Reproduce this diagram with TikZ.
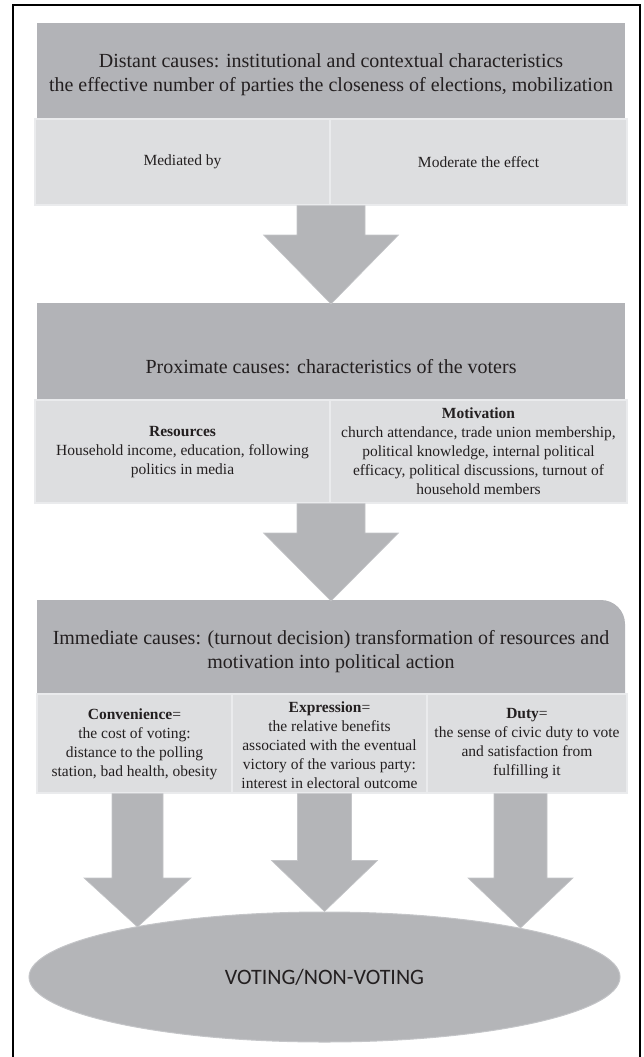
\documentclass[tikz,border=0pt]{standalone}
\usepackage{fontspec}
\setmainfont{Liberation Serif}
\newfontfamily\calibrifont{Carlito}
\usetikzlibrary{shapes.geometric,calc}
\definecolor{boxdark}{RGB}{178,179,183}
\definecolor{boxlight}{RGB}{221,222,224}
\definecolor{boxedge}{RGB}{234,235,237}
\definecolor{arrowgray}{RGB}{180,181,184}
\definecolor{arrowedge}{RGB}{196,197,200}
\definecolor{ink}{RGB}{35,31,32}
\tikzset{
  darkbox/.style={rectangle, fill=boxdark, draw=none, inner sep=0pt},
  lightbox/.style={rectangle, fill=boxlight, draw=boxedge, line width=1.2pt, inner sep=0pt},
  bigtxt/.style={align=center, text=ink, inner sep=0pt, font=\fontsize{20}{24}\selectfont},
  smalltxt/.style={align=center, text=ink, inner sep=0pt, font=\fontsize{15.5}{19}\selectfont},
  arrowshape/.style={fill=arrowgray, draw=arrowedge, line width=0.6pt, line join=miter},
  frame/.style={draw=black, line width=2pt}
}
% #1 start (shaft top), #2 tip, #3 shaft half width, #4 head half width, #5 head length
\newcommand\blockarr[5]{%
  \path[arrowshape] let \p1=(#1), \p2=(#2) in
    (\x2-#3,\y1) -- (\x2+#3,\y1) -- (\x2+#3,\y2+#5) -- (\x2+#4,\y2+#5) --
    (\x2,\y2) -- (\x2-#4,\y2+#5) -- (\x2-#3,\y2+#5) -- cycle;}
\begin{document}
\begin{tikzpicture}[x=1pt,y=-1pt]
\useasboundingbox (0,0) rectangle (643,1057);
\draw[frame] (13,1058) -- (13,5) -- (640,5) -- (640,1058);

% Distant causes
\node[darkbox, minimum width=588pt, minimum height=96pt] (distant) at (331,71) {};
\node[bigtxt] (distantT) at (331,75) {Distant causes: institutional and contextual characteristics\\the effective number of parties the closeness of elections, mobilization};
\node[lightbox, minimum width=295pt, minimum height=86pt] (med) at (182.5,162) {};
\node[lightbox, minimum width=297pt, minimum height=86pt] (mod) at (478.5,162) {};
\node[smalltxt] (medT) at (182.5,162) {Mediated by};
\node[smalltxt] (modT) at (478.5,162) {Moderate the effect};

% Proximate causes
\node[darkbox, minimum width=588pt, minimum height=97pt] (prox) at (331,351.5) {};
\node[bigtxt] (proxT) at (331,367) {Proximate causes: characteristics of the voters};
\node[lightbox, minimum width=295pt, minimum height=103pt] (res) at (182.5,451.5) {};
\node[lightbox, minimum width=297pt, minimum height=103pt] (mot) at (478.5,451.5) {};
\node[smalltxt] (resT) at (182.5,452) {\textbf{Resources}\\Household income, education, following\\politics in media};
\node[smalltxt] (motT) at (478.5,451.5) {\textbf{Motivation}\\church attendance, trade union membership,\\political knowledge, internal political\\efficacy, political discussions, turnout of\\household members};

% Immediate causes
\fill[boxdark] (37,694) -- (37,600) -- (601,600) arc[start angle=90, end angle=0, radius=24pt] -- (625,694) -- cycle;
\coordinate (immtop) at (331,600);
\node[bigtxt] (immT) at (331,651.5) {Immediate causes: (turnout decision) transformation of resources and\\motivation into political action};
\node[lightbox, minimum width=195pt, minimum height=99pt] (conv) at (134.5,743.5) {};
\node[lightbox, minimum width=195pt, minimum height=99pt] (expr) at (329.5,743.5) {};
\node[lightbox, minimum width=200pt, minimum height=99pt] (duty) at (527,743.5) {};
\node[smalltxt] (convT) at (134.5,744) {\textbf{Convenience}=\\the cost of voting:\\distance to the polling\\station, bad health, obesity};
\node[smalltxt] (exprT) at (329.5,745) {\textbf{Expression}=\\the relative benefits\\associated with the eventual\\victory of the various party:\\interest in electoral outcome};
\node[smalltxt] (dutyT) at (527,744) {\textbf{Duty}=\\the sense of civic duty to vote\\and satisfaction from\\fulfilling it};

% Outcome
\node[ellipse, fill=arrowgray, draw=arrowedge, line width=1pt, minimum width=591pt, minimum height=130pt, inner sep=0pt, text=ink, font=\calibrifont\fontsize{22}{26}\selectfont] (vote) at (324.5,977) {VOTING/NON-VOTING};

% Block arrows
\coordinate (proxtop) at (331,304);
\coordinate (immtip) at (331,601);
\coordinate (tipL) at (137.5,927);
\coordinate (tipR) at (520.5,928);
\blockarr{med.south east}{proxtop}{34pt}{67.5pt}{69pt}
\blockarr{res.south east}{immtip}{34pt}{67.5pt}{68pt}
\blockarr{conv.south}{tipL}{25.5pt}{53.5pt}{49pt}
\blockarr{expr.south}{vote.north}{27pt}{53pt}{51pt}
\blockarr{duty.south}{tipR}{26.5pt}{52.5pt}{50pt}
\end{tikzpicture}
\end{document}
